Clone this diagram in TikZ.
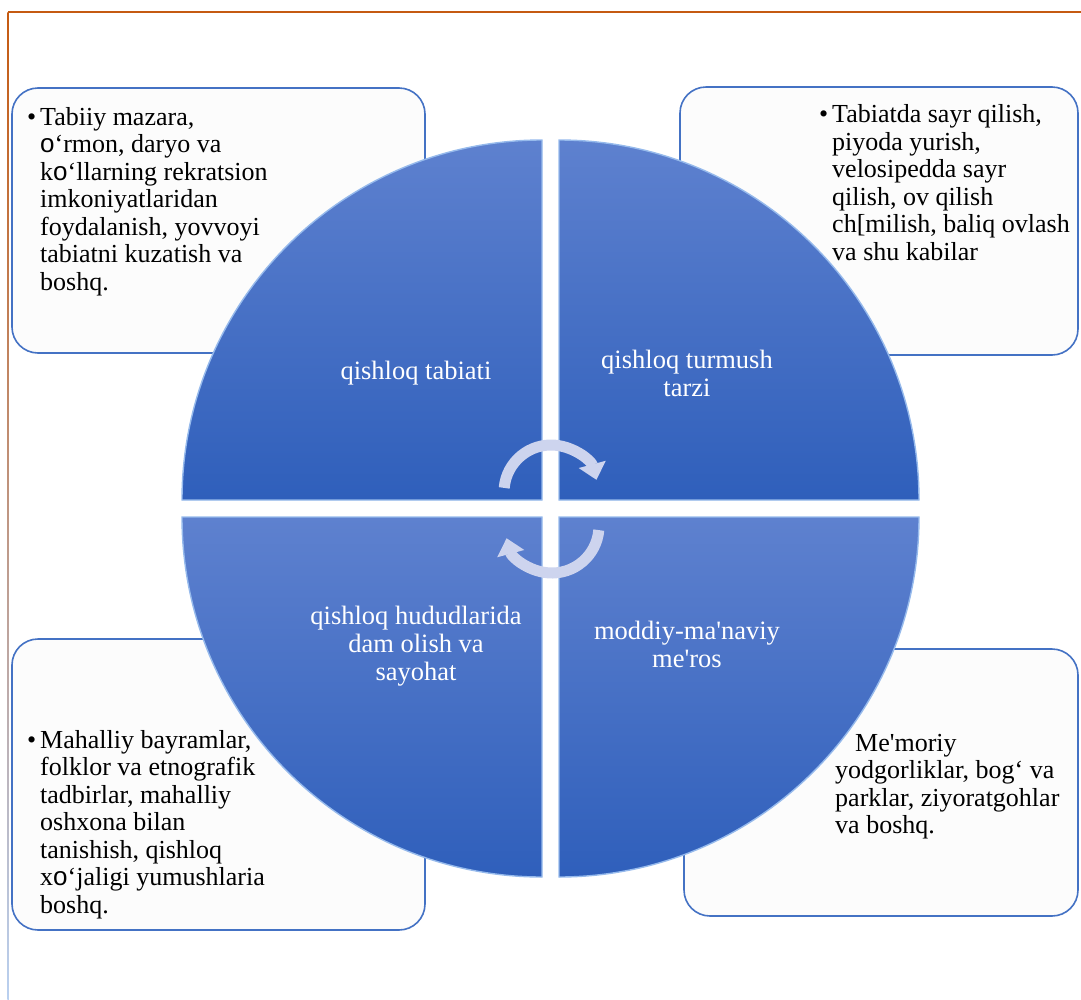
\documentclass[tikz,border=0pt]{standalone}
\usepackage{fontspec}
\setmainfont{Liberation Serif}[Ligatures=TeXOff]
\newfontfamily\oFont{Liberation Sans}
\usetikzlibrary{arrows.meta}

\definecolor{frameOrange}{RGB}{197,90,17}
\definecolor{frameBlue}{RGB}{185,208,240}
\definecolor{boxBlue}{RGB}{68,114,196}
\definecolor{boxFill}{RGB}{252,252,252}
\definecolor{quadTop}{RGB}{94,129,207}
\definecolor{quadBottom}{RGB}{47,95,187}
\definecolor{quadEdge}{RGB}{150,186,236}
\definecolor{cycleFill}{RGB}{205,212,238}

\newcommand{\uo}{{\oFont o}‘}

\begin{document}
\begin{tikzpicture}[x=1pt,y=-1pt]
	\tikzstyle{boxStyle}=[draw=boxBlue, line width=1.6pt, fill=boxFill, rounded corners=26pt, inner sep=0pt]
	\tikzstyle{textStyle}=[anchor=base west, align=left, inner sep=0pt, font=\fontsize{26}{27.5}\selectfont]
	\tikzstyle{quadStyle}=[top color=quadTop, bottom color=quadBottom, draw=quadEdge, line width=1.4pt]
	\tikzstyle{labelStyle}=[anchor=base, align=center, inner sep=0pt, text=white, font=\fontsize{26.5}{28}\selectfont]
	\tikzstyle{cycleStyle}=[line width=11pt, draw=cycleFill, -{Triangle[width=27pt,length=16pt]}]
	\useasboundingbox (0,0) rectangle (1081,999);
	% frame
	\shade[top color=frameOrange, bottom color=frameBlue] (7.4,12) rectangle (8.8,999);
	\draw[frameOrange, line width=1.2pt] (8,12) -- (1081,12);
	% text boxes
	\node[boxStyle, minimum width=413, minimum height=265] (boxTL) at (218.5,220.5) {};
	\node[boxStyle, minimum width=398, minimum height=268] (boxTR) at (879,221) {};
	\node[boxStyle, minimum width=413, minimum height=291] (boxBL) at (218.5,784.5) {};
	\node[boxStyle, minimum width=394, minimum height=267] (boxBR) at (881,782.5) {};
	% circle quadrants
	\draw[quadStyle] (542,500) -- ++(-360,0) arc[start angle=180, end angle=270, radius=360] -- cycle;
	\draw[quadStyle] (559,500) -- ++(0,-360) arc[start angle=270, end angle=360, radius=360] -- cycle;
	\draw[quadStyle] (559,517) -- ++(360,0) arc[start angle=0, end angle=90, radius=360] -- cycle;
	\draw[quadStyle] (542,517) -- ++(0,360) arc[start angle=90, end angle=180, radius=360] -- cycle;
	% quadrant labels (base = last line)
	\node[labelStyle] (nature) at (416,379) {qishloq tabiati};
	\node[labelStyle] (life) at (687,396) {qishloq turmush\\tarzi};
	\node[labelStyle] (leisure) at (416,680) {qishloq hududlarida\\dam olish va\\sayohat};
	\node[labelStyle] (heritage) at (687,667) {moddiy-ma'naviy\\me'ros};
	% box texts (base = last line)
	\node[textStyle] (textTL) at (40,290) {\llap{\textbullet\hspace{4pt}}Tabiiy mazara,\\
		\uo rmon, daryo va\\
		k\uo llarning rekratsion\\
		imkoniyatlaridan\\
		foydalanish, yovvoyi\\
		tabiatni kuzatish va\\
		boshq.};
	\node[textStyle] (textTR) at (832,260) {\llap{\textbullet\hspace{4pt}}Tabiatda sayr qilish,\\
		piyoda yurish,\\
		velosipedda sayr\\
		qilish, ov qilish\\
		ch[milish, baliq ovlash\\
		va shu kabilar};
	\node[textStyle] (textBL) at (40,913) {\llap{\textbullet\hspace{4pt}}Mahalliy bayramlar,\\
		folklor va etnografik\\
		tadbirlar, mahalliy\\
		oshxona bilan\\
		tanishish, qishloq\\
		x\uo jaligi yumushlaria\\
		boshq.};
	\node[textStyle] (textBR) at (835,833.5) {\hspace*{20pt}Me'moriy\\
		yodgorliklar, bog‘ va\\
		parklar, ziyoratgohlar\\
		va boshq.};
	% cycle arrows
	\coordinate (cycleA) at (504.2,487.9);
	\coordinate (cycleB) at (598.8,530.1);
	\draw[cycleStyle] (cycleA) arc[start angle=185, end angle=345, radius=47];
	\draw[cycleStyle] (cycleB) arc[start angle=5, end angle=165, radius=47];
\end{tikzpicture}
\end{document}
